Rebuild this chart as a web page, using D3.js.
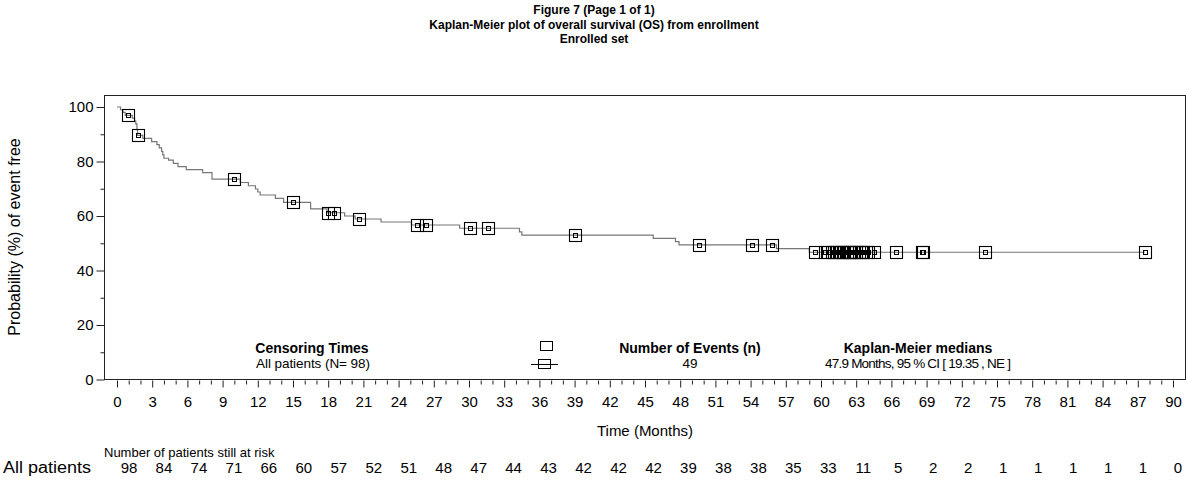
<!DOCTYPE html>
<html><head><meta charset="utf-8">
<script src="https://cdn.jsdelivr.net/npm/d3@7"></script>
<style>
html,body{margin:0;padding:0;background:#fff;}
svg{display:block;font-family:"Liberation Sans",Arial,sans-serif;}
</style></head>
<body>
<svg id="c" width="1188" height="484"></svg>
<script>
const titles = ["Figure 7 (Page 1 of 1)", "Kaplan-Meier plot of overall survival (OS) from enrollment", "Enrolled set"];
const xTicks = d3.range(0, 91, 3);
const yTicks = [0, 20, 40, 60, 80, 100];
const kmTime = [0,0.3,0.5,0.7,1.3,1.5,1.6,1.7,1.75,2.2,2.95,3.4,3.6,3.8,3.9,4.0,4.4,4.8,5.2,5.9,7.3,8.1,10.5,11.2,11.8,12.0,12.2,13.5,14.2,16.5,17.9,19.4,20.3,22.5,25.1,29.2,34.3,34.5,45.7,47.6,47.9,56.2,59.0];
const kmSurv = [100,99.0,98.0,96.9,95.9,94.8,93.8,91.7,89.6,88.5,87.3,86.2,85.0,83.7,82.4,81.2,80.5,79.3,78.1,77.0,75.9,73.5,72.3,71.1,69.9,68.8,67.7,66.5,65.0,62.6,61.2,60.0,58.9,57.8,56.7,55.5,54.2,53.0,51.8,50.6,49.4,48.0,46.7];
const kmEnd = 87.6;
const censorTime = [0.9,1.8,10.0,15.0,18.0,18.5,20.6,25.6,26.3,30.1,31.6,39.0,49.6,54.1,55.8,59.5,60.3,60.6,60.9,61.1,61.3,61.5,61.7,61.9,62.0,62.2,62.4,62.5,62.7,62.8,63.0,63.2,63.4,63.6,63.8,64.0,64.5,66.4,68.6,68.7,74.0,87.6];
const censorSurv = [96.9,89.6,73.5,65.0,61.2,61.2,58.9,56.7,56.7,55.5,55.5,53.0,49.4,49.4,49.4,46.7,46.7,46.7,46.7,46.7,46.7,46.7,46.7,46.7,46.7,46.7,46.7,46.7,46.7,46.7,46.7,46.7,46.7,46.7,46.7,46.7,46.7,46.7,46.7,46.7,46.7,46.7];
const riskTimes = d3.range(0, 91, 3);
const atRisk = [98,84,74,71,66,60,57,52,51,48,47,44,43,42,42,42,39,38,38,35,33,11,5,2,2,1,1,1,1,1,0];
const legendHeads = ["Censoring Times", "Number of Events (n)", "Kaplan-Meier medians"];
const legendVals = ["All patients (N= 98)", "49", "47.9 Months, 95 % CI [ 19.35 , NE ]"];

const svg = d3.select("#c");
const x = d3.scaleLinear().domain([0, 90]).range([117, 1173]);
const xRisk = d3.scaleLinear().domain([0, 90]).range([129, 1178]);
const y = d3.scaleLinear().domain([0, 100]).range([379.5, 107]);
const frame = {l: 104, r: 1185, t: 95, b: 379};
const font = '"Liberation Sans", Arial, sans-serif';

// titles
svg.selectAll("text.title").data(titles).join("text")
  .attr("x", 594).attr("y", (d,i) => 14 + i*14.5)
  .attr("text-anchor", "middle").attr("font-weight", "bold").attr("font-size", 12)
  .text(d => d);

// frame
svg.append("rect").attr("x", frame.l + 0.5).attr("y", frame.t + 0.5)
  .attr("width", frame.r - frame.l).attr("height", frame.b - frame.t)
  .attr("fill", "none").attr("stroke", "#222").attr("stroke-width", 1);

// y axis
const yAx = svg.append("g").attr("transform", `translate(${frame.l + 0.5},0)`)
  .call(d3.axisLeft(y).tickValues(yTicks).tickSize(8).tickPadding(3));
yAx.select(".domain").remove();
yAx.selectAll("line").attr("stroke", "#222");
yAx.selectAll("text").attr("font-size", 15).attr("font-family", font).attr("fill", "#000");
const yMin = svg.append("g").attr("transform", `translate(${frame.l + 0.5},0)`)
  .call(d3.axisLeft(y).tickValues([10,30,50,70,90]).tickSize(4).tickFormat(""));
yMin.select(".domain").remove();
yMin.selectAll("line").attr("stroke", "#222");

// x axis
const xAx = svg.append("g").attr("transform", `translate(0,${frame.b + 1.5})`)
  .call(d3.axisBottom(x).tickValues(xTicks).tickSize(7).tickPadding(9));
xAx.select(".domain").remove();
xAx.selectAll("line").attr("stroke", "#222");
xAx.selectAll("text").attr("font-size", 15).attr("font-family", font).attr("fill", "#000");
const xMin = svg.append("g").attr("transform", `translate(0,${frame.b + 1.5})`)
  .call(d3.axisBottom(x).tickValues(d3.range(0, 91, 1).filter(v => v % 3 !== 0)).tickSize(4).tickFormat(""));
xMin.select(".domain").remove();
xMin.selectAll("line").attr("stroke", "#222");

// axis labels
svg.append("text").attr("transform", `translate(20,${(frame.t+frame.b)/2}) rotate(-90)`)
  .attr("text-anchor", "middle").attr("font-size", 16).text("Probability (%) of event free");
svg.append("text").attr("x", (x(0)+x(90))/2).attr("y", 436)
  .attr("text-anchor", "middle").attr("font-size", 15).text("Time (Months)");

// KM curve
const pts = kmTime.map((t,i) => [t, kmSurv[i]]);
pts.push([kmEnd, kmSurv[kmSurv.length-1]]);
const line = d3.line().x(d => x(d[0])).y(d => y(d[1])).curve(d3.curveStepAfter);
svg.append("path").datum(pts).attr("d", line)
  .attr("fill", "none").attr("stroke", "#777").attr("stroke-width", 1.2);

// censor marks
const cens = svg.append("g");
censorTime.forEach((t,i) => {
  const cx = Math.round(x(t)) + 0.5, cy = Math.round(y(censorSurv[i])) + 0.5;
  cens.append("rect").attr("x", cx - 6).attr("y", cy - 6).attr("width", 12).attr("height", 12)
    .attr("fill", "none").attr("stroke", "#000").attr("stroke-width", 1.1);
  cens.append("rect").attr("x", cx - 2).attr("y", cy - 2).attr("width", 4).attr("height", 4)
    .attr("fill", "none").attr("stroke", "#000").attr("stroke-width", 1);
});

// legend
const legX = [312, 690, 918];
svg.selectAll("text.lh").data(legendHeads).join("text")
  .attr("x", (d,i) => legX[i]).attr("y", 353).attr("text-anchor", "middle")
  .attr("font-weight", "bold").attr("font-size", 14).text(d => d);
const lvWidths = [114, null, 186];
svg.selectAll("text.lv").data(legendVals).join("text")
  .attr("x", (d,i) => legX[i] + (i===0 ? 1 : 0)).attr("y", 368).attr("text-anchor", "middle")
  .attr("font-size", 13.5).text(d => d)
  .each(function(d,i){ if (lvWidths[i]) d3.select(this).attr("textLength", lvWidths[i]).attr("lengthAdjust", "spacing"); });
svg.append("rect").attr("x", 540.5).attr("y", 341.5).attr("width", 12).attr("height", 9)
  .attr("fill", "none").attr("stroke", "#000");
svg.append("rect").attr("x", 538.5).attr("y", 359.5).attr("width", 12).attr("height", 9)
  .attr("fill", "none").attr("stroke", "#000");
svg.append("line").attr("x1", 531).attr("x2", 558).attr("y1", 364.5).attr("y2", 364.5).attr("stroke", "#000");

// at-risk table
svg.append("text").attr("x", 104).attr("y", 457).attr("font-size", 13).text("Number of patients still at risk");
svg.append("text").attr("x", 3).attr("y", 473).attr("font-size", 16)
  .attr("textLength", 88).attr("lengthAdjust", "spacingAndGlyphs").text("All patients");
svg.selectAll("text.risk").data(atRisk).join("text")
  .attr("x", (d,i) => xRisk(riskTimes[i])).attr("y", 473).attr("text-anchor", "middle")
  .attr("font-size", 15).text(d => d);
</script>
</body></html>
